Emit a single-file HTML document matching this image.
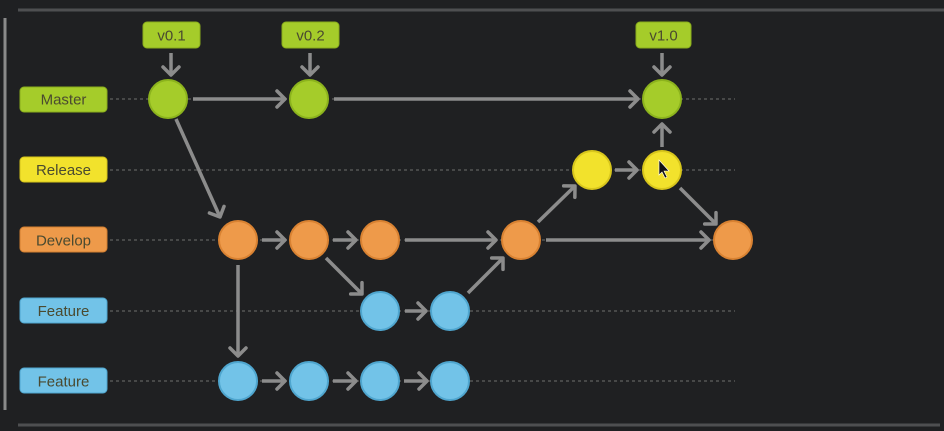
<!DOCTYPE html>
<html><head><style>
html,body{margin:0;padding:0;background:#1f2022;}
svg{display:block;}
text{font-family:"Liberation Sans",sans-serif;font-size:15px;fill:#4a4a30;}
</style></head><body>
<svg width="944" height="431" viewBox="0 0 944 431">
<defs>
<marker id="a" markerUnits="userSpaceOnUse" markerWidth="20" markerHeight="20" refX="14" refY="10" orient="auto">
<polyline points="6,2 14,10 6,18" fill="none" stroke="#8c8c8c" stroke-width="3.5" stroke-linecap="round" stroke-linejoin="round"/>
</marker>
</defs>
<rect width="944" height="431" fill="#1f2022"/>
<line x1="18" y1="10" x2="944" y2="10" stroke="#4e4f51" stroke-width="3"/>
<line x1="18" y1="425" x2="940" y2="425" stroke="#4e4f51" stroke-width="3"/>
<line x1="5" y1="18" x2="5" y2="410" stroke="#8a8a8a" stroke-width="3"/>
<g stroke="#555" stroke-width="1.5" stroke-dasharray="3,3">
<line x1="110" y1="99" x2="735" y2="99"/>
<line x1="110" y1="170" x2="735" y2="170"/>
<line x1="110" y1="240" x2="735" y2="240"/>
<line x1="110" y1="311" x2="735" y2="311"/>
<line x1="110" y1="381" x2="735" y2="381"/>
</g>
<!-- labels -->
<rect x="20" y="87" width="87" height="25" rx="4" fill="#a5cc2a" stroke="#89ad1c"/>
<text x="63.5" y="104.5" text-anchor="middle">Master</text>
<rect x="20" y="157" width="87" height="25" rx="4" fill="#f2e22c" stroke="#d4c31a"/>
<text x="63.5" y="175" text-anchor="middle">Release</text>
<rect x="20" y="227" width="87" height="25" rx="4" fill="#ee9a4a" stroke="#d27e30"/>
<text x="63.5" y="245.5" text-anchor="middle">Develop</text>
<rect x="20" y="298" width="87" height="25" rx="4" fill="#72c3e8" stroke="#4fa6cf"/>
<text x="63.5" y="316" text-anchor="middle">Feature</text>
<rect x="20" y="368" width="87" height="25" rx="4" fill="#72c3e8" stroke="#4fa6cf"/>
<text x="63.5" y="386.5" text-anchor="middle">Feature</text>
<!-- tags -->
<rect x="143" y="22" width="57" height="26" rx="4" fill="#a5cc2a" stroke="#89ad1c"/>
<text x="171.5" y="40.5" text-anchor="middle">v0.1</text>
<rect x="282" y="22" width="57" height="26" rx="4" fill="#a5cc2a" stroke="#89ad1c"/>
<text x="310.5" y="40.5" text-anchor="middle">v0.2</text>
<rect x="636" y="22" width="55" height="26" rx="4" fill="#a5cc2a" stroke="#89ad1c"/>
<text x="663.5" y="40.5" text-anchor="middle">v1.0</text>
<!-- arrows -->
<g stroke="#8c8c8c" stroke-width="3.5" fill="none" marker-end="url(#a)">
<line x1="171" y1="53" x2="171" y2="75"/>
<line x1="310" y1="53" x2="310" y2="75"/>
<line x1="662" y1="53" x2="662" y2="75"/>
<line x1="193" y1="99" x2="285" y2="99"/>
<line x1="334" y1="99" x2="638" y2="99"/>
<line x1="662" y1="147" x2="662" y2="124"/>
<line x1="615" y1="170" x2="637" y2="170"/>
<line x1="680" y1="188" x2="716" y2="224"/>
<line x1="538" y1="222" x2="575" y2="186"/>
<line x1="546" y1="240" x2="709" y2="240"/>
<line x1="176" y1="119" x2="220" y2="217"/>
<line x1="262" y1="240" x2="285" y2="240"/>
<line x1="333" y1="240" x2="356" y2="240"/>
<line x1="405" y1="240" x2="496" y2="240"/>
<line x1="326" y1="258" x2="362" y2="294"/>
<line x1="405" y1="311" x2="426" y2="311"/>
<line x1="468" y1="293" x2="503" y2="258"/>
<line x1="238" y1="265" x2="238" y2="356"/>
<line x1="262" y1="381" x2="285" y2="381"/>
<line x1="333" y1="381" x2="356" y2="381"/>
<line x1="404" y1="381" x2="427" y2="381"/>
</g>
<!-- nodes -->
<g stroke-width="2">
<circle cx="168" cy="99" r="19" fill="#a5cc2a" stroke="#8cb31d"/>
<circle cx="309" cy="99" r="19" fill="#a5cc2a" stroke="#8cb31d"/>
<circle cx="662" cy="99" r="19" fill="#a5cc2a" stroke="#8cb31d"/>
<circle cx="592" cy="170" r="19" fill="#f2e22c" stroke="#d8c61c"/>
<circle cx="662" cy="170" r="19" fill="#f2e22c" stroke="#d8c61c"/>
<circle cx="238" cy="240" r="19" fill="#ee9a4a" stroke="#d98232"/>
<circle cx="309" cy="240" r="19" fill="#ee9a4a" stroke="#d98232"/>
<circle cx="380" cy="240" r="19" fill="#ee9a4a" stroke="#d98232"/>
<circle cx="521" cy="240" r="19" fill="#ee9a4a" stroke="#d98232"/>
<circle cx="733" cy="240" r="19" fill="#ee9a4a" stroke="#d98232"/>
<circle cx="380" cy="311" r="19" fill="#72c3e8" stroke="#4fa6cf"/>
<circle cx="450" cy="311" r="19" fill="#72c3e8" stroke="#4fa6cf"/>
<circle cx="238" cy="381" r="19" fill="#72c3e8" stroke="#4fa6cf"/>
<circle cx="309" cy="381" r="19" fill="#72c3e8" stroke="#4fa6cf"/>
<circle cx="380" cy="381" r="19" fill="#72c3e8" stroke="#4fa6cf"/>
<circle cx="450" cy="381" r="19" fill="#72c3e8" stroke="#4fa6cf"/>
</g>
<polygon points="659,160 659,175 662,172 665,178 667,177 664,171 669,171" fill="#111" stroke="#fff" stroke-width="0.6"/>
</svg>
</body></html>
